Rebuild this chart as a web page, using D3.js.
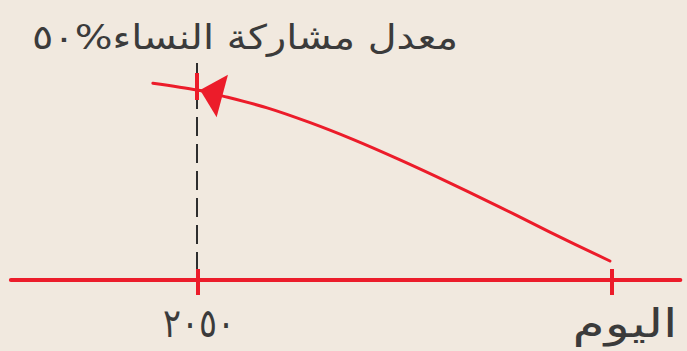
<!DOCTYPE html>
<html>
<head>
<meta charset="utf-8">
<script src="https://cdn.jsdelivr.net/npm/d3@7"></script>
<style>
  body { margin: 0; background: #f1e9df; }
  svg { display: block; }
  .label { font-family: "DejaVu Sans", sans-serif; fill: #3b3b3b; }
</style>
</head>
<body>
<div id="chart"></div>
<script>
// position along the time axis: 0 = today, 1 = 2050
const tickValues = [1, 0];
const tickLabels = ["٢٠٥٠", "اليوم"];
const axisExtent = [-0.165, 1.452];

// women's participation path (rate, %)
const pathX = [1.109, 1.002, 0.940, 0.833, 0.729, 0.626, 0.512, 0.391, 0.271, 0.150, 0.005];
const pathY = [51.8, 50.0, 48.4, 45.3, 41.4, 37.0, 31.6, 25.5, 19.2, 12.6, 5.0];

const targetYear = 1;
const targetRate = 50;
const guideTop = 57.1;
const title = "معدل مشاركة النساء%٥٠";

const width = 687, height = 351;

const svg = d3.select("#chart").append("svg")
    .attr("width", width)
    .attr("height", height);

const x = d3.scaleLinear().domain([0, 1]).range([612, 198]);
const y = d3.scaleLinear().domain([0, 50]).range([280, 90]);

// dashed guide at 2050
svg.append("line")
    .attr("x1", x(targetYear) - 1).attr("x2", x(targetYear) - 1)
    .attr("y1", y(guideTop)).attr("y2", y(0))
    .attr("stroke", "#2e2e2e")
    .attr("stroke-width", 2)
    .attr("stroke-dasharray", "19,8");

// base axis
svg.append("line")
    .attr("x1", x(axisExtent[0])).attr("x2", x(axisExtent[1]))
    .attr("y1", y(0)).attr("y2", y(0))
    .attr("stroke", "#ec1c2a")
    .attr("stroke-width", 4)
    .attr("stroke-linecap", "round");

svg.selectAll(".tick")
    .data(tickValues)
    .join("line")
    .attr("class", "tick")
    .attr("x1", d => x(d)).attr("x2", d => x(d))
    .attr("y1", y(0) - 11).attr("y2", y(0) + 15)
    .attr("stroke", "#ec1c2a")
    .attr("stroke-width", 4);

// label widths as measured on the original artwork
const labelWidths = [72, 105];
svg.selectAll(".tick-label")
    .data(tickValues)
    .join("text")
    .attr("class", "label tick-label")
    .attr("x", (d, i) => x(d) + (i === 1 ? 13 : 1))
    .attr("y", 337)
    .attr("text-anchor", "middle")
    .attr("direction", "rtl")
    .attr("textLength", (d, i) => labelWidths[i])
    .attr("lengthAdjust", "spacingAndGlyphs")
    .style("font-size", "40px")
    .text((d, i) => tickLabels[i]);

// the curve
const pts = pathX.map((d, i) => [x(d), y(pathY[i])]);
const line = d3.line().curve(d3.curveCatmullRom.alpha(0.5));

svg.append("path")
    .attr("d", line(pts))
    .attr("fill", "none")
    .attr("stroke", "#ec1c2a")
    .attr("stroke-width", 3)
    .attr("stroke-linecap", "round");

// red bar where the curve meets the guide
svg.append("line")
    .attr("x1", x(targetYear) - 1).attr("x2", x(targetYear) - 1)
    .attr("y1", y(targetRate) - 17).attr("y2", y(targetRate) + 10)
    .attr("stroke", "#ec1c2a")
    .attr("stroke-width", 4);

// arrowhead pointing back along the curve
const tip = [x(0.995), y(targetRate)];
const back = [x(0.940), y(48.4)];
const dx = back[0] - tip[0], dy = back[1] - tip[1];
const len = Math.hypot(dx, dy);
const ux = dx / len, uy = dy / len;
const headLen = 23, headHalf = 22;
const base = [tip[0] + ux * headLen, tip[1] + uy * headLen];
const head = [
    tip,
    [base[0] + uy * headHalf, base[1] - ux * headHalf],
    [base[0] - uy * headHalf, base[1] + ux * headHalf]
];
svg.append("path")
    .attr("d", d3.line()(head) + "Z")
    .attr("fill", "#ec1c2a");

svg.append("text")
    .attr("class", "label")
    .attr("x", 245)
    .attr("y", 49)
    .attr("text-anchor", "middle")
    .attr("direction", "rtl")
    .attr("textLength", 426)
    .attr("lengthAdjust", "spacingAndGlyphs")
    .style("font-size", "34px")
    .text(title);
</script>
</body>
</html>
